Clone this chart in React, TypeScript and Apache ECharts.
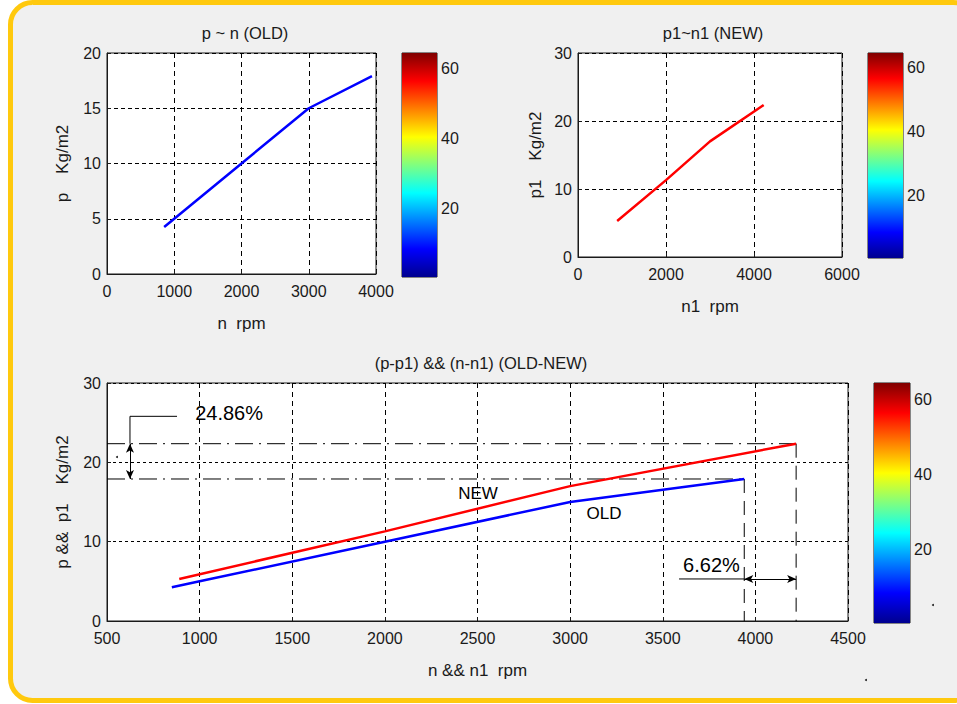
import React, { useEffect, useRef } from 'react';
import * as echarts from 'echarts';

// ---- data ----
const oldN = [850, 1000, 2000, 3000, 3940];
const oldP = [4.25, 5.0, 10.0, 15.0, 17.9];
const newN = [890, 2000, 3000, 4220];
const newP = [5.3, 11.3, 17.0, 22.35];
const colorbarTicks = [20, 40, 60];
const colorbarRange = [0.5, 64.5];
const colorbarBase = [0.5];
const colorbarSpan = [64];
const titles = ['p ~ n (OLD)', 'p1~n1 (NEW)', '(p-p1) && (n-n1) (OLD-NEW)'];
const xNames = ['n  rpm', 'n1  rpm', 'n && n1  rpm'];
const yNames = ['p    Kg/m2', 'p1    Kg/m2', 'p &&  p1    Kg/m2'];
// annotation anchors (data coords of chart 3)
const arrowPX = 624;
const leaderPY = 25.8;
const leaderPX = 878;
const arrowNY = 5.3;
const leaderNX = 3588;
const labelTexts = ['24.86%', '6.62%', 'NEW', 'OLD'];
const labelX = [1159, 3763, 2503, 3183];
const labelY = [26.2, 7.06, 16.1, 13.5];
const labelSizes = [20, 20, 17, 17];

const FONT = "'Liberation Sans', Arial, sans-serif";
const TXT = '#1a1a1a';

const jet = {
  type: 'linear', x: 0, y: 1, x2: 0, y2: 0,
  colorStops: [
    { offset: 0, color: '#00008f' },
    { offset: 0.125, color: '#0000ff' },
    { offset: 0.375, color: '#00ffff' },
    { offset: 0.625, color: '#ffff00' },
    { offset: 0.875, color: '#ff0000' },
    { offset: 1, color: '#800000' },
  ],
};

const plotGrids = [
  { left: 107, top: 53, width: 269, height: 221 },
  { left: 578, top: 53, width: 264, height: 204 },
  { left: 107, top: 383, width: 741, height: 238 },
];
const cbGrids = [
  { left: 402, top: 53, width: 35, height: 224 },
  { left: 868, top: 53, width: 35, height: 205 },
  { left: 874, top: 383, width: 36, height: 240 },
];
const xRanges = [[0, 4000, 1000], [0, 6000, 2000], [500, 4500, 500]];
const yRanges = [[0, 20, 5], [0, 30, 10], [0, 30, 10]];
const yNameGaps = [36, 34, 36];
const vDash = [[5, 4], [5, 4], [5, 4]];
const hDash = [[4, 3], [4, 3], [3, 3]];

export default function App() {
  const ref = useRef<HTMLDivElement>(null);
  useEffect(() => {
    const chart = echarts.init(ref.current!, null, { renderer: 'svg' });
    const grid: any[] = [];
    const xAxis: any[] = [];
    const yAxis: any[] = [];
    const series: any[] = [];
    const fmt = (v: number) => String(v);
    const labelStyle = { fontFamily: FONT, fontSize: 16, color: TXT, formatter: fmt };
    const nameStyle = { fontFamily: FONT, fontSize: 17, color: TXT };

    for (let i = 0; i < 3; i++) {
      grid.push({ ...plotGrids[i], show: true, backgroundColor: '#ffffff', borderColor: '#1a1a1a', borderWidth: 1, containLabel: false });
      xAxis.push({
        gridIndex: i * 2, type: 'value', min: xRanges[i][0], max: xRanges[i][1], interval: xRanges[i][2],
        name: xNames[i], nameLocation: 'middle', nameGap: 41, nameTextStyle: nameStyle,
        axisLine: { show: true, onZero: false, lineStyle: { color: '#1a1a1a' } },
        axisTick: { show: true, inside: true, length: 4, lineStyle: { color: '#1a1a1a' } },
        axisLabel: { ...labelStyle, margin: 9 },
        splitLine: { show: true, lineStyle: { color: '#000', type: vDash[i], width: 1 } },
      });
      yAxis.push({
        gridIndex: i * 2, type: 'value', min: yRanges[i][0], max: yRanges[i][1], interval: yRanges[i][2],
        name: yNames[i], nameLocation: 'middle', nameGap: yNameGaps[i], nameTextStyle: nameStyle,
        axisLine: { show: true, onZero: false, lineStyle: { color: '#1a1a1a' } },
        axisTick: { show: true, inside: true, length: 4, lineStyle: { color: '#1a1a1a' } },
        axisLabel: { ...labelStyle, margin: 6 },
        splitLine: { show: true, lineStyle: { color: '#000', type: hDash[i], width: 1 } },
      });
      // colorbar
      grid.push({ ...cbGrids[i], show: true, borderColor: '#1a1a1a', borderWidth: 1 });
      xAxis.push({ gridIndex: i * 2 + 1, type: 'category', data: ['cb'], show: false, boundaryGap: true });
      yAxis.push({
        gridIndex: i * 2 + 1, type: 'value', position: 'right', min: colorbarRange[0], max: colorbarRange[1],
        axisLine: { show: false },
        axisTick: { show: true, inside: true, length: 3, customValues: colorbarTicks, lineStyle: { color: '#1a1a1a' } },
        axisLabel: { ...labelStyle, margin: 4, customValues: colorbarTicks },
        splitLine: { show: false },
      });
      series.push({
        type: 'bar', xAxisIndex: i * 2 + 1, yAxisIndex: i * 2 + 1, stack: 'cb' + i, barWidth: '100%',
        data: colorbarBase, itemStyle: { color: 'rgba(0,0,0,0)' }, silent: true,
      });
      series.push({
        type: 'bar', xAxisIndex: i * 2 + 1, yAxisIndex: i * 2 + 1, stack: 'cb' + i, barWidth: '100%',
        data: colorbarSpan, itemStyle: { color: jet }, silent: true,
      });
    }

    const pair = (xs: number[], ys: number[]) => xs.map((x, k) => [x, ys[k]]);
    const oldData = pair(oldN, oldP);
    const newData = pair(newN, newP);
    const oldEndN = oldN[oldN.length - 1];
    const oldEndP = oldP[oldP.length - 1];
    const newEndN = newN[newN.length - 1];
    const newEndP = newP[newP.length - 1];

    series.push({ type: 'line', xAxisIndex: 0, yAxisIndex: 0, data: oldData, showSymbol: false, symbol: 'none', lineStyle: { color: '#0000ff', width: 2.5 }, z: 5 });
    series.push({ type: 'line', xAxisIndex: 2, yAxisIndex: 2, data: newData, showSymbol: false, symbol: 'none', lineStyle: { color: '#ff0000', width: 2.5 }, z: 5 });

    // chart 3 annotation lines
    const dashDot = [18, 6, 2, 6];
    const longDash = [14, 8];
    const annLine = (data: number[][], type: any) => ({
      type: 'line', xAxisIndex: 4, yAxisIndex: 4, data, showSymbol: false, symbol: 'none',
      lineStyle: { color: '#000', width: 1, type }, silent: true, z: 3,
    });
    series.push(annLine([[xRanges[2][0], newEndP], [newEndN, newEndP]], dashDot));
    series.push(annLine([[xRanges[2][0], oldEndP], [oldEndN, oldEndP]], dashDot));
    series.push(annLine([[newEndN, newEndP], [newEndN, yRanges[2][0]]], longDash));
    series.push(annLine([[oldEndN, oldEndP], [oldEndN, yRanges[2][0]]], longDash));
    series.push(annLine([[leaderPX, leaderPY], [arrowPX, leaderPY], [arrowPX, newEndP]], 'solid'));
    series.push(annLine([[leaderNX, arrowNY], [oldEndN, arrowNY]], 'solid'));
    series.push({
      type: 'line', xAxisIndex: 4, yAxisIndex: 4, data: [], showSymbol: false,
      markLine: {
        silent: true, symbol: ['arrow', 'arrow'], symbolSize: [6, 9],
        lineStyle: { color: '#000', width: 1, type: 'solid' }, label: { show: false },
        data: [
          [{ coord: [arrowPX, newEndP] }, { coord: [arrowPX, oldEndP] }],
          [{ coord: [oldEndN, arrowNY] }, { coord: [newEndN, arrowNY] }],
        ],
      },
    });
    series.push({ type: 'line', xAxisIndex: 4, yAxisIndex: 4, data: oldData, showSymbol: false, symbol: 'none', lineStyle: { color: '#0000ff', width: 2.5 }, z: 5 });
    series.push({ type: 'line', xAxisIndex: 4, yAxisIndex: 4, data: newData, showSymbol: false, symbol: 'none', lineStyle: { color: '#ff0000', width: 2.5 }, z: 5 });
    series.push({
      type: 'scatter', xAxisIndex: 4, yAxisIndex: 4, symbolSize: 0, silent: true, z: 6,
      itemStyle: { opacity: 1 },
      data: labelTexts.map((t, k) => ({
        name: t, value: [labelX[k], labelY[k]],
        label: { show: true, position: 'inside', formatter: '{b}', fontFamily: FONT, fontSize: labelSizes[k], color: '#000', opacity: 1 },
      })),
    });

    const titleStyle = { fontFamily: FONT, fontSize: 16.5, color: TXT, fontWeight: 'normal' };
    const option: any = {
      animation: false,
      backgroundColor: '#ffffff',
      grid, xAxis, yAxis, series,
      title: [
        { text: titles[0], left: 240, top: 19, textAlign: 'center', textStyle: titleStyle },
        { text: titles[1], left: 708, top: 19, textAlign: 'center', textStyle: titleStyle },
        { text: titles[2], left: 476, top: 349, textAlign: 'center', textStyle: titleStyle },
      ],
      graphic: [
        {
          type: 'rect', z: -10, silent: true,
          shape: { x: 10.5, y: 2.5, width: 965, height: 698, r: 22 },
          style: { fill: '#f0f0f0', stroke: '#ffc90e', lineWidth: 5 },
        },
        { type: 'circle', shape: { cx: 933, cy: 605, r: 1 }, style: { fill: '#222' }, silent: true },
        { type: 'circle', shape: { cx: 866, cy: 680, r: 1 }, style: { fill: '#222' }, silent: true },
        { type: 'circle', shape: { cx: 117, cy: 457, r: 1 }, style: { fill: '#222' }, silent: true, z: 10 },
      ],
    };
    chart.setOption(option);
    return () => chart.dispose();
  }, []);
  return <div ref={ref} style={{ position: 'absolute', left: 0, top: 0, width: 957, height: 704 }} />;
}
